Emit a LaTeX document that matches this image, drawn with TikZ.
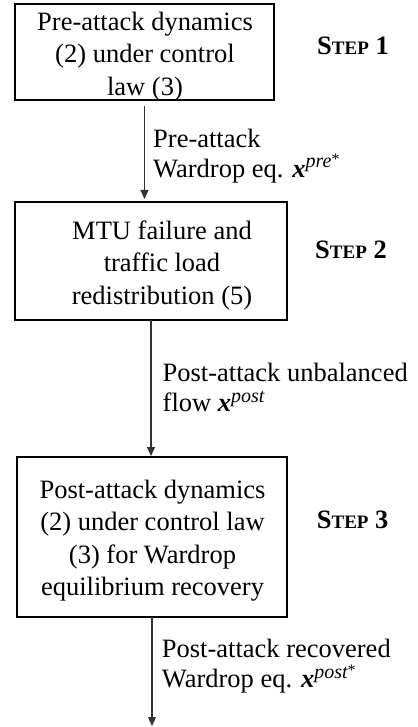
\documentclass[tikz,border=0pt]{standalone}
\usepackage{fontspec}
\setmainfont{Liberation Serif}
\usetikzlibrary{arrows.meta}
\newcommand{\vx}[1]{{\bfseries\itshape x}\raisebox{9.5pt}{\fontsize{20}{20}\selectfont\itshape #1}}
\newcommand{\vstar}{\raisebox{3pt}{\fontsize{16}{16}\selectfont\upshape *}}
\newcommand{\steplab}[1]{\fontsize{26.5}{26.5}\selectfont\bfseries S{\fontsize{19}{19}\selectfont TEP} #1}
\tikzset{
  boxshape/.style={draw=black, line width=1.3pt, inner sep=0pt, outer sep=0pt},
  boxtext/.style={font=\fontsize{26.5}{32.3}\selectfont, align=center, inner sep=0pt},
  flowlabel/.style={font=\fontsize{26.5}{30}\selectfont, align=left, inner sep=0pt, anchor=west},
  steplabel/.style={inner sep=0pt, anchor=base west},
  flow/.style={draw=black!80, line width=1.2pt, -{Triangle[length=9pt,width=8pt]}}
}
\begin{document}
\begin{tikzpicture}[x=1pt,y=-1pt]
\useasboundingbox (0,0) rectangle (417,727);
% boxes
\node[boxshape, minimum width=259pt, minimum height=96pt] (b1) at (144.5,52) {};
\node[boxtext] (t1) at (145,56.4) {Pre-attack dynamics\\(2) under control\\law (3)};
\node[boxshape, minimum width=272pt, minimum height=118pt] (b2) at (151,261) {};
\node[boxtext] (t2) at (162,265.2) {MTU failure and\\traffic load\\redistribution (5)};
\node[boxshape, minimum width=270pt, minimum height=160pt] (b3) at (152,537) {};
\node[boxtext] (t3) at (152.5,540.7) {Post-attack dynamics\\(2) under control law\\(3) for Wardrop\\equilibrium recovery};
% step labels
\node[steplabel] (s1) at (317,55) {\steplab{1}};
\node[steplabel] (s2) at (315,258) {\steplab{2}};
\node[steplabel] (s3) at (316.7,528) {\steplab{3}};
% connectors
\draw[flow, shorten <=6pt, shorten >=3pt] (b1.south) -- (b1.south |- b2.north);
\draw[flow, shorten >=1pt] (b2.south) -- (b2.south |- b3.north);
\coordinate (end) at (153,726);
\draw[flow] (b3.south) -- (b3.south |- end);
% connector labels
\node[flowlabel] (l1) at (153,155.9) {Pre-attack\\Wardrop eq. \vx{pre\vstar}};
\node[flowlabel] (l2) at (162.5,387.7) {Post-attack unbalanced\\flow \vx{post}};
\node[flowlabel] (l3) at (161.7,666.3) {Post-attack recovered\\Wardrop eq. \vx{post\vstar}};
\end{tikzpicture}
\end{document}
